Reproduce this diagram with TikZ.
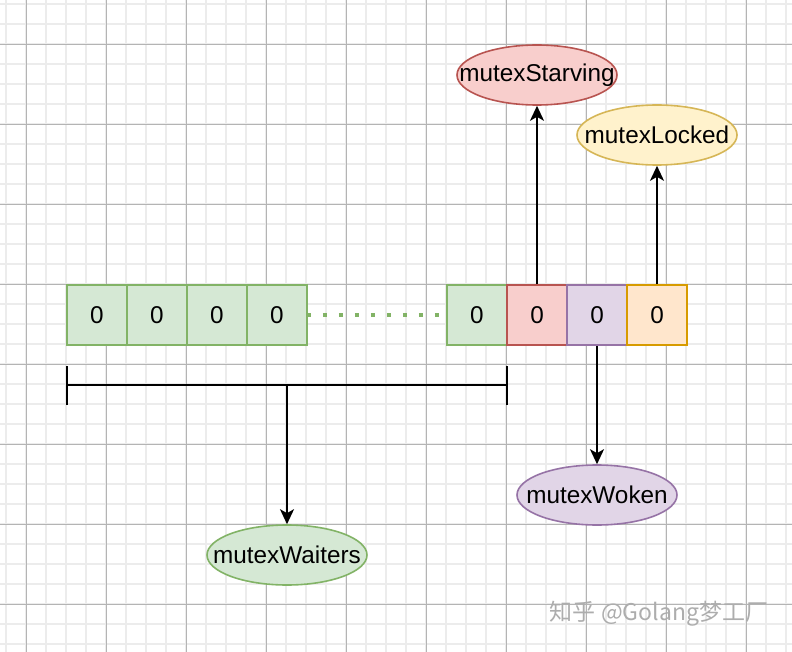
\documentclass[tikz,border=0pt]{standalone}
\usepackage{fontspec}
\setmainfont{Liberation Sans}
\newfontfamily\cjkfont{Noto Sans CJK SC}
\usetikzlibrary{arrows.meta,shapes.geometric}
\definecolor{gfill}{HTML}{D5E8D4}\definecolor{gline}{HTML}{82B366}
\definecolor{rfill}{HTML}{F8CECC}\definecolor{rline}{HTML}{B85450}
\definecolor{pfill}{HTML}{E1D5E7}\definecolor{pline}{HTML}{9673A6}
\definecolor{ofill}{HTML}{FFE6CC}\definecolor{oline}{HTML}{D79B00}
\definecolor{yfill}{HTML}{FFF2CC}\definecolor{yline}{HTML}{D6B656}
\definecolor{minorgrid}{HTML}{ECECEC}\definecolor{majorgrid}{HTML}{B4B4B4}
\newcommand{\zw}[1]{\makebox[0pt]{#1}}
\begin{document}
\begin{tikzpicture}[x=1pt,y=-1pt,
  every node/.style={font=\fontsize{24.3}{27}\selectfont},
  bitbox/.style={draw, line width=1.6pt, minimum width=60pt, minimum height=60pt, inner sep=0pt},
  ovalnode/.style={ellipse, draw, line width=1.6pt, minimum width=160pt, minimum height=60pt, inner sep=0pt},
  arr/.style={line width=2pt, -{Stealth[length=15pt,width=14pt,inset=4pt]}}]
\useasboundingbox (0,0) rectangle (792,652);
\fill[white] (0,0) rectangle (792,652);
% grid
\foreach \x in {6,26,...,786} \draw[minorgrid, line width=1.3pt] (\x,0) -- (\x,652);
\foreach \y in {4,24,...,644} \draw[minorgrid, line width=1.3pt] (0,\y) -- (792,\y);
\foreach \x in {26,106,...,746} \draw[majorgrid, line width=0.9pt] (\x,0) -- (\x,652);
\foreach \y in {44,124,...,604} \draw[majorgrid, line width=0.9pt] (0,\y) -- (792,\y);
% boxes
\node[bitbox, draw=gline, fill=gfill] (b1) at (97,315) {0};
\node[bitbox, draw=gline, fill=gfill] (b2) at (157,315) {0};
\node[bitbox, draw=gline, fill=gfill] (b3) at (217,315) {0};
\node[bitbox, draw=gline, fill=gfill] (b4) at (277,315) {0};
\node[bitbox, draw=gline, fill=gfill] (b5) at (477,315) {0};
\node[bitbox, draw=rline, fill=rfill] (b6) at (537,315) {0};
\node[bitbox, draw=pline, fill=pfill] (b7) at (597,315) {0};
\node[bitbox, draw=oline, fill=ofill] (b8) at (657,315) {0};
\draw[gline, line width=4pt, dash pattern=on 4pt off 12pt, shorten <=-1pt] (b4.east) -- (b5.west);
% labels
\node[ovalnode, draw=rline, fill=rfill] (starving) at (537,75) {\zw{mutexStarving}};
\node[ovalnode, draw=yline, fill=yfill] (locked) at (657,135) {\zw{mutexLocked}};
\node[ovalnode, draw=pline, fill=pfill] (woken) at (597,495) {\zw{mutexWoken}};
\node[ovalnode, draw=gline, fill=gfill] (waiters) at (287,555) {\zw{mutexWaiters}};
% arrows
\draw[arr] (b6.north) -- (starving.south);
\draw[arr] (b8.north) -- (locked.south);
\draw[arr] (b7.south) -- (woken.north);
% bracket
\coordinate (bl) at (67,385);
\coordinate (br) at (507,385);
\coordinate (bm) at (287,385);
\draw[line width=2pt] (bl) -- (br);
\draw[line width=2pt] ([yshift=-20pt]bl) -- ([yshift=19pt]bl);
\draw[line width=2pt] ([yshift=-20pt]br) -- ([yshift=19pt]br);
\draw[arr] (bm) -- (waiters.north);
% watermark
\node[font=\cjkfont\fontsize{23}{26}\selectfont, text=black!32, inner sep=0pt] (wm) at (659,614) {知乎 @Golang梦工厂};
\end{tikzpicture}
\end{document}
